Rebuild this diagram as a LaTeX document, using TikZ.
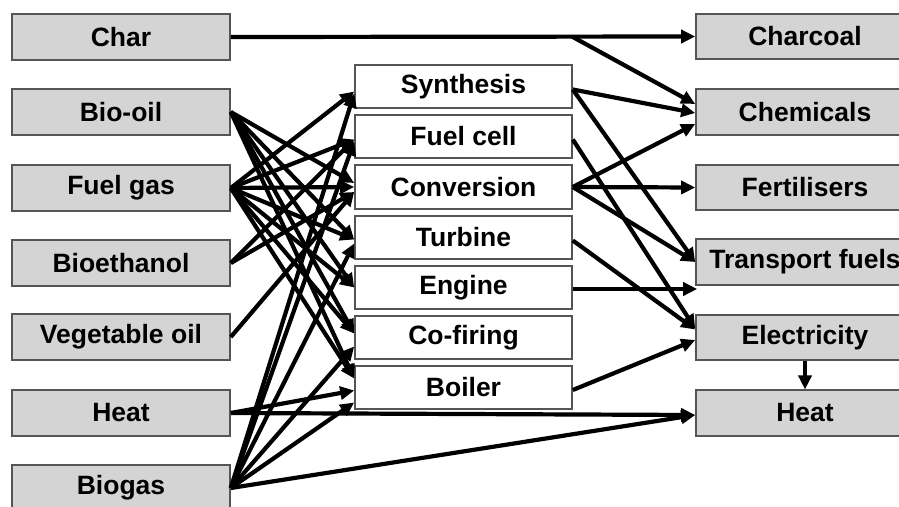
\documentclass[tikz,border=0pt]{standalone}
\usepackage{fontspec}
\setmainfont{Liberation Sans}
\usetikzlibrary{arrows.meta,calc}
\definecolor{boxgray}{RGB}{212,212,212}
\definecolor{boxline}{RGB}{85,85,85}
\begin{document}
\begin{tikzpicture}[x=1pt,y=-1pt,
  box/.style={draw=boxline,line width=1.6pt,inner sep=0pt,
    font=\fontsize{26.5}{30}\selectfont\bfseries},
  src/.style={box,fill=boxgray,minimum width=218pt,minimum height=45.5pt},
  proc/.style={box,fill=white,minimum width=217pt,minimum height=43.5pt},
  flow/.style={line width=4.2pt,-{Triangle[length=14pt,width=13pt]}}
]
\useasboundingbox (0,0) rectangle (899,506);

% feedstocks and primary products
\node[src] (char)   at (121,37)  {Char};
\node[src] (biooil) at (121,112) {Bio-oil};
\node[src] (fgas)   at (121,188) {Fuel gas};
\node[src] (bioeth) at (121,263) {Bioethanol};
\node[src] (vegoil) at (121,337) {Vegetable oil};
\node[src] (heatin) at (121,413) {Heat};
\node[src] (biogas) at (121,488) {Biogas};

% conversion processes
\node[proc] (synth)  at (463.5,86.5)  {Synthesis};
\node[proc] (fcell)  at (463.5,136.5) {Fuel cell};
\node[proc] (conv)   at (463.5,187)   {Conversion};
\node[proc] (turb)   at (463.5,237.5) {Turbine};
\node[proc] (eng)    at (463.5,287.5) {Engine};
\node[proc] (cofire) at (463.5,337.5) {Co-firing};
\node[proc] (boiler) at (463.5,387.5) {Boiler};

% end uses
\node[src] (charcoal) at (805,36.5) {Charcoal};
\node[src] (chem)     at (805,112)  {Chemicals};
\node[src] (fert)     at (805,187.5){Fertilisers};
\node[src] (trans)    at (805,262)  {Transport fuels};
\node[src] (elec)     at (805,337.5){Electricity};
\node[src] (heatout)  at (805,413)  {Heat};

% char route
\coordinate (split) at ($(char.east)!0.735!(charcoal.west)$);
\draw[flow] (char.east) -- (charcoal.west);
\draw[flow] (split) -- ($(chem.west)+(0,-8)$);

% bio-oil
\draw[flow] (biooil.east) -- ($(conv.west)+(0,-4)$);
\draw[flow] (biooil.east) -- ($(turb.west)+(0,2)$);
\draw[flow] (biooil.east) -- (eng.west);
\draw[flow] (biooil.east) -- ($(cofire.west)+(0,-4)$);
\draw[flow] (biooil.east) -- ($(boiler.west)+(0,-9)$);

% fuel gas
\draw[flow] (fgas.east) -- ($(synth.west)+(0,5)$);
\draw[flow] (fgas.east) -- ($(fcell.west)+(0,3)$);
\draw[flow] (fgas.east) -- (conv.west);
\draw[flow] (fgas.east) -- ($(turb.west)+(0,2)$);
\draw[flow] (fgas.east) -- (eng.west);
\draw[flow] (fgas.east) -- ($(cofire.west)+(0,-4)$);
\draw[flow] (fgas.east) -- ($(boiler.west)+(0,-9)$);

% bioethanol and vegetable oil
\draw[flow] (bioeth.east) -- ($(fcell.west)+(0,3)$);
\draw[flow] (bioeth.east) -- ($(conv.west)+(0,5)$);
\draw[flow] (vegoil.east) -- ($(conv.west)+(0,5)$);

% heat
\draw[flow] (heatin.east) -- ($(boiler.west)+(0,3)$);
\draw[flow] (heatin.east) -- ($(heatout.west)+(0,2)$);

% biogas
\draw[flow] (biogas.east) -- ($(synth.west)+(0,7)$);
\draw[flow] (biogas.east) -- ($(fcell.west)+(0,5)$);
\draw[flow] (biogas.east) -- ($(turb.west)+(0,6)$);
\draw[flow] (biogas.east) -- ($(cofire.west)+(0,9)$);
\draw[flow] (biogas.east) -- ($(boiler.west)+(0,15)$);
\draw[flow] (biogas.east) -- ($(heatout.west)+(0,2)$);

% process outputs
\draw[flow] ($(synth.east)+(0,3)$) -- ($(chem.west)+(0,1)$);
\draw[flow] ($(synth.east)+(0,3)$) -- (trans.west);
\draw[flow] ($(fcell.east)+(0,3)$) -- ($(elec.west)+(0,-9)$);
\draw[flow] (conv.east) -- ($(chem.west)+(0,12)$);
\draw[flow] (conv.east) -- (fert.west);
\draw[flow] (conv.east) -- (trans.west);
\draw[flow] ($(turb.east)+(0,3)$) -- ($(elec.west)+(0,-8)$);
\coordinate (engend) at ($(eng.east -| elec.west)+(2,1.5)$);
\draw[flow] ($(eng.east)+(0,1.5)$) -- (engend);
\draw[flow] ($(boiler.east)+(0,2.5)$) -- ($(elec.west)+(0,2.5)$);
\draw[flow] (elec.south) -- (heatout.north);
\end{tikzpicture}
\end{document}
